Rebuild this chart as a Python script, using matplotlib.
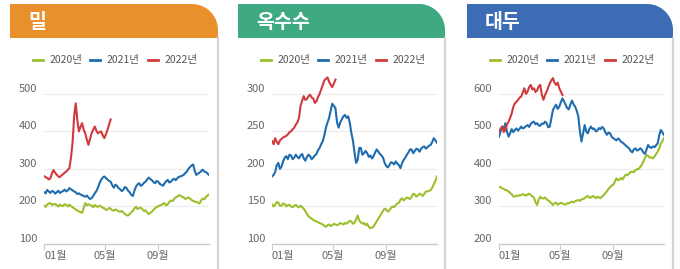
import numpy as np
import matplotlib
matplotlib.use('Agg')
import matplotlib.pyplot as plt
import matplotlib.transforms as mtransforms
from matplotlib.patches import PathPatch
from matplotlib.path import Path

plt.rcParams['font.family'] = ['Noto Sans CJK KR', 'DejaVu Sans']

#---------------------------------------------------------------------------------
# grain prices, three panels (밀 / 옥수수 / 대두), one line per year
# values read twice a week (x step = half a week)
#---------------------------------------------------------------------------------
titles = ['밀', '옥수수', '대두']
header_colors = ['#E8912C', '#3FAA82', '#3C6DB4']
years = ['2020년', '2021년', '2022년']
line_colors = ['#9CBF2D', '#1F6DAF', '#D03A3E']
month_labels = ['01월', '05월', '09월']
month_pos = [0, 19.2, 35.9]

wheat_2020 = [202, 199, 205, 208, 209, 204, 206, 207, 203, 200, 205, 202, 201, 206, 204, 200, 205, 201,
              198, 195, 192, 189, 187, 185, 183, 196, 209, 203, 206, 204, 202, 198, 204, 200, 199, 202,
              200, 197, 195, 191, 192, 196, 194, 190, 189, 192, 190, 187, 186, 188, 184, 180, 177, 176,
              180, 185, 188, 195, 199, 193, 196, 197, 193, 188, 190, 184, 180, 183, 186, 191, 195, 199,
              200, 203, 204, 207, 209, 203, 206, 212, 216, 214, 220, 224, 226, 230, 229, 226, 224, 220,
              222, 224, 221, 217, 215, 213, 212, 210, 208, 216, 221, 219, 225, 229, 232]
wheat_2021 = [238, 235, 244, 240, 236, 241, 240, 234, 238, 242, 236, 239, 241, 245, 240, 243, 249, 246,
              243, 240, 238, 233, 235, 232, 230, 228, 226, 229, 224, 220, 222, 228, 235, 241, 250, 262,
              271, 277, 280, 276, 272, 268, 266, 257, 250, 258, 255, 249, 246, 241, 244, 252, 249, 242,
              238, 231, 228, 242, 253, 259, 262, 255, 258, 263, 266, 272, 277, 273, 270, 265, 262, 268,
              266, 260, 258, 255, 262, 267, 271, 264, 266, 271, 274, 270, 275, 279, 280, 282, 284, 289,
              293, 300, 305, 309, 312, 295, 284, 287, 290, 294, 298, 293, 292, 288, 284]
wheat_2022 = [281, 278, 276, 272, 275, 288, 297, 290, 285, 280, 278, 283, 286, 290, 293, 298, 302, 330,
              370, 440, 475, 430, 400, 412, 422, 405, 395, 378, 364, 380, 395, 405, 413, 402, 395, 398,
              400, 390, 382, 392, 404, 418, 432]

corn_2020 = [153, 150, 152, 156, 155, 151, 151, 154, 153, 150, 152, 152, 150, 149, 151, 152, 150, 149,
             151, 149, 147, 144, 140, 137, 135, 134, 132, 131, 130, 129, 128, 127, 126, 124, 123, 125,
             126, 124, 125, 127, 126, 125, 126, 128, 127, 126, 128, 127, 129, 131, 130, 127, 128, 133,
             138, 131, 129, 127, 128, 125, 127, 123, 121, 122, 123, 127, 130, 134, 137, 141, 144, 147,
             146, 143, 145, 148, 150, 149, 152, 154, 155, 159, 161, 158, 160, 162, 161, 160, 163, 167,
             166, 163, 165, 167, 166, 164, 167, 170, 170, 171, 172, 175, 180, 184, 190]
corn_2021 = [190, 192, 196, 205, 208, 200, 203, 210, 215, 217, 213, 219, 218, 213, 215, 219, 216, 214,
             218, 220, 214, 211, 216, 219, 217, 213, 215, 218, 220, 225, 228, 233, 237, 245, 255, 262,
             268, 278, 287, 284, 281, 262, 255, 262, 266, 270, 272, 268, 270, 262, 248, 238, 222, 208,
             212, 228, 228, 219, 221, 224, 221, 216, 218, 214, 217, 222, 226, 223, 220, 218, 215, 208,
             204, 202, 205, 209, 208, 206, 210, 207, 205, 201, 208, 212, 215, 219, 222, 226, 226, 221,
             224, 227, 226, 223, 227, 229, 230, 227, 229, 231, 232, 236, 241, 238, 235]
corn_2022 = [237, 233, 241, 236, 233, 238, 240, 242, 243, 244, 246, 249, 250, 253, 255, 259, 262, 268,
             284, 291, 297, 292, 293, 297, 299, 295, 294, 288, 290, 296, 300, 306, 312, 318, 320, 322,
             316, 312, 309, 314, 319]

soy_2020 = [351, 352, 348, 347, 344, 343, 340, 336, 333, 327, 326, 329, 328, 330, 330, 333, 331, 329,
            332, 334, 331, 327, 324, 312, 304, 318, 326, 322, 321, 324, 319, 316, 313, 308, 304, 309,
            310, 305, 307, 310, 308, 306, 305, 309, 308, 311, 313, 311, 314, 316, 317, 315, 319, 320,
            322, 326, 328, 323, 324, 328, 326, 322, 326, 324, 322, 327, 330, 336, 340, 347, 351, 356,
            358, 366, 375, 370, 372, 376, 372, 380, 385, 383, 388, 392, 393, 391, 397, 399, 400, 405,
            411, 420, 430, 437, 435, 430, 431, 428, 433, 440, 446, 455, 468, 474, 482]
soy_2021 = [486, 500, 513, 505, 522, 500, 486, 495, 506, 498, 504, 508, 502, 507, 513, 508, 510, 514,
            517, 512, 520, 524, 526, 519, 522, 516, 515, 521, 520, 526, 522, 511, 513, 535, 557, 565,
            571, 560, 566, 578, 588, 580, 571, 562, 559, 572, 582, 572, 566, 555, 540, 500, 473, 495,
            517, 500, 495, 507, 513, 506, 508, 500, 502, 509, 506, 512, 508, 498, 491, 497, 495, 486,
            482, 479, 476, 481, 478, 472, 470, 466, 462, 458, 455, 448, 444, 452, 455, 449, 451, 455,
            451, 444, 440, 452, 464, 458, 456, 460, 458, 463, 468, 490, 504, 497, 491]
soy_2022 = [500, 507, 513, 498, 504, 518, 526, 536, 548, 565, 575, 579, 584, 590, 593, 604, 615, 600,
            606, 618, 624, 612, 615, 605, 609, 620, 624, 598, 584, 597, 606, 617, 628, 636, 642, 630,
            624, 630, 615, 606, 597]

yticks = [[100, 200, 300, 400, 500],
          [100, 150, 200, 250, 300],
          [200, 300, 400, 500, 600]]
series = [[wheat_2020, wheat_2021, wheat_2022],
          [corn_2020, corn_2021, corn_2022],
          [soy_2020, soy_2021, soy_2022]]

W, H = 680, 269
fig = plt.figure(figsize=(W / 100, H / 100), dpi=100)
fig.patch.set_facecolor('white')

deco = fig.add_axes([0, 0, 1, 1])
deco.set_xlim(0, W)
deco.set_ylim(H, 0)
deco.axis('off')

panel_left = [10, 238, 467]
panel_right = [218, 445, 673]
axes_left = [44, 272, 499]
axes_w = 165
axes_top, axes_bottom = 74, 244

for i in range(3):
    x0, x1 = panel_left[i], panel_right[i]
    y0, y1 = 4, 38
    r = 26
    ang = np.linspace(np.pi / 2, 0, 20)
    verts = [(x0, y1), (x0, y0), (x1 - r, y0)]
    verts += [(x1 - r + r * np.cos(a), y0 + r - r * np.sin(a)) for a in ang]
    verts += [(x1, y1), (x0, y1)]
    codes = [Path.MOVETO] + [Path.LINETO] * (len(verts) - 2) + [Path.CLOSEPOLY]
    deco.add_patch(PathPatch(Path(verts, codes), facecolor=header_colors[i], edgecolor='none'))
    deco.text(x0 + 18, 22, titles[i], color='white', fontsize=14, fontweight='bold',
              va='center', ha='left')
    deco.plot([x1, x1], [y1, H], color='#d4d4d4', lw=1.6)

    # legend
    for k in range(3):
        tx = x0 + [40, 97, 155][k]
        deco.plot([tx - 17, tx - 7], [60, 60], color=line_colors[k], lw=2)
        deco.text(tx, 60, years[k], fontsize=7.5, color='#555555', va='center', ha='left')

    # chart
    ax = fig.add_axes([axes_left[i] / W, (H - axes_bottom) / H, axes_w / W,
                       (axes_bottom - axes_top) / H])
    ax.set_facecolor('none')
    yt = yticks[i]
    step = yt[1] - yt[0]
    ax.set_ylim(yt[0], yt[-1] + step * 0.53)
    ax.set_xlim(0, 52)
    for k, s in enumerate(series[i]):
        ax.plot(np.arange(len(s)) * 0.5, s, color=line_colors[k], lw=1.5, zorder=3)

    ax.set_yticks(yt)
    ax.grid(axis='y', color='#ebebeb', lw=0.8, zorder=0)
    ax.tick_params(axis='y', length=0, labelleft=False)
    off = mtransforms.ScaledTranslation(-7 / 100, 5 / 100, fig.dpi_scale_trans)
    for v in yt:
        ax.text(0, v, str(v), transform=ax.get_yaxis_transform() + off, ha='right', va='center',
                fontsize=8, color='#666666')

    for sp in ['top', 'right', 'left']:
        ax.spines[sp].set_visible(False)
    ax.spines['bottom'].set_color('#cccccc')
    ax.spines['bottom'].set_linewidth(1)
    ax.set_xticks(month_pos)
    ax.set_xticklabels(month_labels)
    ax.tick_params(axis='x', length=4, color='#cccccc', labelsize=8, labelcolor='#666666', pad=1)
    ax.get_xticklabels()[0].set_ha('left')

plt.savefig('out.png', dpi=100)
